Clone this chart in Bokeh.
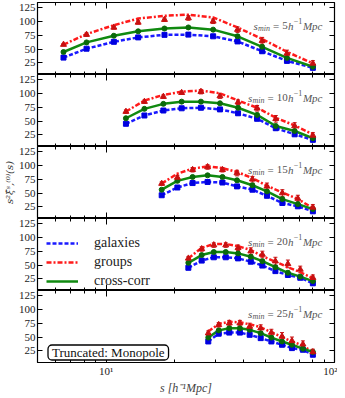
import math
from bokeh.plotting import figure
from bokeh.models import (LinearAxis, LogAxis, FixedTicker, Label, Legend, LegendItem,
                          ColumnDataSource, Whisker, Range1d, TeeHead)
from bokeh.layouts import column
from bokeh.embed import file_html
from bokeh.resources import INLINE

# ---------------- data ----------------
smin_values = ["5", "10", "15", "20", "25"]
x_major = [10, 100]
x_minor = [5, 6, 7, 8, 9, 20, 30, 40, 50, 60, 70, 80, 90]
x_labels = {10: "10\u00b9", 100: "10\u00b2"}
y_ticks = [25, 50, 75, 100, 125]

s1 = [6.5, 8.2, 10.8, 13.8, 18.0, 22.9, 29.4, 37.6, 48.2, 61.9, 80.4]
gal1 = [34.5, 50.6, 63, 71, 75.6, 76, 73, 63.7, 46, 28.6, 16]
grp1 = [58, 76, 89, 98, 103, 106, 100, 85, 65, 42, 24]
grp_model1 = [58, 77, 93, 105, 110, 112, 107, 89, 68, 45, 24]
cross1 = [44.6, 62, 74, 82, 87, 89, 85, 73, 54, 34, 18]
gal_err1 = [1, 2, 2, 2, 2, 2, 2, 3, 3, 3, 3]
grp_err1 = [2, 3, 3, 3, 3, 4, 4, 5, 6, 6, 5]
cross_err1 = [1, 2, 2, 2, 2, 2, 2, 3, 3, 3, 3]

s2 = [12.2, 14.7, 17.8, 21.4, 26.0, 31.5, 37.8, 45.8, 55.3, 66.9, 80.4]
gal2 = [45, 60, 69, 73, 74, 71, 64, 54, 37, 26, 16]
grp2 = [67, 85, 94, 101, 103, 95, 84, 73, 54, 41, 24]
grp_model2 = [67, 87, 97, 103, 105, 100, 87, 74, 56, 42, 26]
cross2 = [55, 72, 81, 85, 85, 82, 74, 61, 41, 32, 19]
gal_err2 = [2, 2, 2, 2, 2, 2, 3, 3, 3, 3, 3]
grp_err2 = [3, 3, 3, 3, 4, 4, 4, 5, 6, 6, 5]
cross_err2 = [2, 2, 2, 2, 2, 2, 3, 3, 3, 3, 3]

s3 = [17.5, 20.5, 23.9, 27.8, 32.3, 37.4, 43.7, 50.6, 59.1, 69.1, 80.4]
gal3 = [46, 60, 68, 70, 69, 62, 56, 45, 32, 26, 17]
grp3 = [67, 78, 92, 97, 92, 86, 75, 62, 50, 40, 24]
grp_model3 = [67, 85, 94, 98, 95, 88, 77, 63, 51, 39, 23]
cross3 = [56, 72, 79, 82, 79, 73, 64, 53, 39, 30, 21]
gal_err3 = [2, 2, 2, 2, 2, 3, 3, 3, 3, 3, 3]
grp_err3 = [3, 4, 4, 4, 4, 5, 5, 6, 6, 6, 5]
cross_err3 = [2, 2, 2, 2, 2, 3, 3, 3, 3, 3, 3]

s4 = [22.9, 26.2, 29.6, 33.4, 37.8, 43.0, 48.3, 55.1, 62.5, 70.8, 80.4]
gal4 = [45, 58, 64, 64, 62, 56, 49, 39, 32, 27, 17]
grp4 = [62, 79, 86, 86, 81, 75, 69, 57, 52, 42, 27]
grp_model4 = [62, 81, 88, 88, 84, 77, 66, 56, 46, 37, 26]
cross4 = [54, 68, 73.5, 73.5, 71, 65, 57, 46, 36, 29, 21]
gal_err4 = [2, 2, 2, 2, 3, 3, 3, 3, 3, 3, 3]
grp_err4 = [3, 4, 4, 4, 5, 6, 6, 7, 7, 6, 5]
cross_err4 = [2, 2, 2, 2, 3, 3, 3, 3, 3, 3, 3]

s5 = [28.0, 31.1, 34.6, 38.5, 42.5, 47.5, 52.9, 58.9, 65.1, 72.7, 80.4]
gal5 = [42, 56, 58, 58, 54, 48, 42, 36, 30, 27, 18]
grp5 = [57, 72, 75, 75, 69, 66, 58, 51, 43, 37, 23]
grp_model5 = [60, 73.5, 77.6, 76.5, 73, 67.6, 58.7, 50, 42, 34.5, 23]
cross5 = [49, 62, 66, 66, 63, 57, 49, 42, 36, 29, 23]
gal_err5 = [3, 3, 3, 3, 3, 3, 3, 3, 3, 3, 3]
grp_err5 = [4, 4, 5, 5, 6, 6, 6, 7, 7, 6, 5]
cross_err5 = [3, 3, 3, 3, 3, 3, 3, 3, 3, 3, 3]

panels = [
    (s1, gal1, grp1, grp_model1, cross1, gal_err1, grp_err1, cross_err1),
    (s2, gal2, grp2, grp_model2, cross2, gal_err2, grp_err2, cross_err2),
    (s3, gal3, grp3, grp_model3, cross3, gal_err3, grp_err3, cross_err3),
    (s4, gal4, grp4, grp_model4, cross4, gal_err4, grp_err4, cross_err4),
    (s5, gal5, grp5, grp_model5, cross5, gal_err5, grp_err5, cross_err5),
]

# ---------------- style ----------------
FONT = "Liberation Serif"
BLUE = "#1a1aff"
BLUE_M = "#0000e0"
RED = "#ff1a1a"
RED_M = "#c81010"
GREEN = "#108a10"
GREEN_M = "#0a6a0a"
GRAY = "#555555"
FW, FH = 297, 72
LEFT, RIGHT = 32, 8

xt = FixedTicker(ticks=x_major, minor_ticks=x_minor)
yt = FixedTicker(ticks=y_ticks, minor_ticks=[])

W_I = {"s": .389, "m": .722, "i": .278, "n": .5, "h": .5, "M": .833, "p": .5, "c": .444}
W_R = {"=": .564, "\u2212": .564}


def tw(text, size, italic):
    tot = 0
    for ch in text:
        if italic:
            tot += W_I.get(ch, .5)
        else:
            tot += W_R.get(ch, .5)
    return tot * size


def add_smin(p, n):
    pieces = [("s", 11, True, 0, 0), ("min", 8, True, -3, 0.3), ("=", 11, False, 0, 3),
              (n, 11, False, 0, 3), ("h", 11, True, 0, 0.3), ("\u22121", 8, False, 5, 0.3),
              ("Mpc", 11, True, 0, 0.6)]
    total = sum(tw(t, sz, it) + g for t, sz, it, dy, g in pieces)
    x = (FW - 12) - total
    base = FH - 23
    for t, sz, it, dy, g in pieces:
        x += g
        p.add_layout(Label(x=x, y=base + dy, x_units="screen", y_units="screen", text=t,
                           text_font=FONT, text_font_size=f"{sz}px",
                           text_font_style="italic" if it else "normal",
                           text_color=GRAY, text_align="left", text_baseline="alphabetic"))
        x += tw(t, sz, it)


def style_x(ax, show):
    ax.ticker = xt
    ax.major_tick_in = 6
    ax.major_tick_out = 0
    ax.minor_tick_in = 3
    ax.minor_tick_out = 0
    ax.axis_line_color = None
    ax.major_tick_line_color = "black"
    ax.minor_tick_line_color = "black"
    if show:
        ax.major_label_overrides = x_labels
        ax.major_label_text_font = FONT
        ax.major_label_text_font_size = "11px"
        ax.major_label_text_color = "#222222"
        ax.major_label_standoff = 2
    else:
        ax.major_label_text_font_size = "0.05px"
        ax.major_label_text_color = None
        ax.major_label_standoff = 0
        ax.axis_label_standoff = 0


def style_y(ax, show):
    ax.ticker = yt
    ax.major_tick_in = 5
    ax.major_tick_out = 0
    ax.minor_tick_in = 0
    ax.minor_tick_out = 0
    ax.axis_line_color = None
    ax.major_tick_line_color = "black"
    if show:
        ax.major_label_text_font = FONT
        ax.major_label_text_font_size = "11px"
        ax.major_label_text_color = "#222222"
        ax.major_label_standoff = 2
    else:
        ax.major_label_text_font_size = "0.05px"
        ax.major_label_text_color = None
        ax.major_label_standoff = 0


figs = []
for i, (s, gal, grp, grpm, cross, ge, re_, ce) in enumerate(panels):
    first, last = i == 0, i == 4
    p = figure(x_axis_type="log", x_range=Range1d(5, 100), y_range=Range1d(4, 134),
               frame_width=FW, frame_height=FH,
               min_border_left=LEFT, min_border_right=RIGHT,
               min_border_top=2 if first else 0, min_border_bottom=0,
               output_backend="svg", toolbar_location=None)
    p.xgrid.visible = False
    p.ygrid.visible = False
    p.outline_line_color = "black"
    p.outline_line_width = 1.2
    p.background_fill_color = "white"
    p.border_fill_color = "white"

    style_x(p.xaxis[0], last)
    if last:
        p.xaxis[0].axis_label = "s [h\u207b\u00b9Mpc]"
        p.xaxis[0].axis_label_text_font = FONT
        p.xaxis[0].axis_label_text_font_size = "12px"
        p.xaxis[0].axis_label_text_font_style = "italic"
        p.xaxis[0].axis_label_standoff = 1
    top = LogAxis()
    style_x(top, False)
    p.add_layout(top, "above")
    style_y(p.yaxis[0], True)
    if i == 2:
        p.yaxis[0].axis_label = "s\u00b2\u03be\u0302\u02e2,\u207d\u2070\u207e(s)"
        p.yaxis[0].axis_label_text_font = "DejaVu Serif"
        p.yaxis[0].axis_label_text_font_size = "10px"
        p.yaxis[0].axis_label_text_font_style = "italic"
        p.yaxis[0].axis_label_text_color = "#333333"
        p.yaxis[0].axis_label_standoff = 1
    right = LinearAxis()
    style_y(right, False)
    p.add_layout(right, "right")

    src = ColumnDataSource(dict(
        s=s, gal=gal, grp=grp, grpm=grpm, cross=cross,
        gal_lo=[v - e for v, e in zip(gal, ge)], gal_hi=[v + e for v, e in zip(gal, ge)],
        grp_lo=[v - e for v, e in zip(grp, re_)], grp_hi=[v + e for v, e in zip(grp, re_)],
        cross_lo=[v - e for v, e in zip(cross, ce)], cross_hi=[v + e for v, e in zip(cross, ce)],
    ))
    gl = p.line("s", "gal", source=src, line_color=BLUE, line_width=2.5, line_dash="4 2")
    rl = p.line("s", "grpm", source=src, line_color=RED, line_width=2.5, line_dash="5 2 2 2")
    cl = p.line("s", "cross", source=src, line_color=GREEN, line_width=2.5)

    for lo, hi, col in (("gal_lo", "gal_hi", BLUE_M), ("cross_lo", "cross_hi", GREEN_M),
                        ("grp_lo", "grp_hi", RED_M)):
        p.add_layout(Whisker(source=src, base="s", lower=lo, upper=hi, dimension="height",
                             line_color=col, line_width=1,
                             lower_head=TeeHead(size=4, line_color=col, line_width=1),
                             upper_head=TeeHead(size=4, line_color=col, line_width=1)))
    p.scatter("s", "gal", source=src, marker="square", size=5, color=BLUE_M)
    p.scatter("s", "cross", source=src, marker="circle", size=5, color=GREEN_M)
    p.scatter("s", "grp", source=src, marker="triangle", size=6, color=RED_M)

    add_smin(p, smin_values[i])

    if i == 3:
        legend = Legend(items=[LegendItem(label="galaxies", renderers=[gl]),
                               LegendItem(label="groups", renderers=[rl]),
                               LegendItem(label="cross-corr", renderers=[cl])],
                        location=(9, 1), border_line_color=None, background_fill_alpha=0,
                        padding=0, margin=0, spacing=3, glyph_width=32, glyph_height=14,
                        label_height=14, label_standoff=16, label_text_font=FONT,
                        label_text_font_size="14px", label_text_color="#222222")
        p.add_layout(legend)
    if last:
        p.add_layout(Label(x=10.5, y=10, x_units="screen", y_units="screen",
                           text="Truncated: Monopole", text_font=FONT, text_font_size="13px",
                           text_align="left", text_baseline="middle", text_color="#111111",
                           border_line_color="black", border_line_width=1.3,
                           background_fill_color="white", padding=(4, 0), border_radius=4))
    figs.append(p)

layout = column(*figs, spacing=0)
open("out.html", "w").write(file_html(layout, INLINE))
